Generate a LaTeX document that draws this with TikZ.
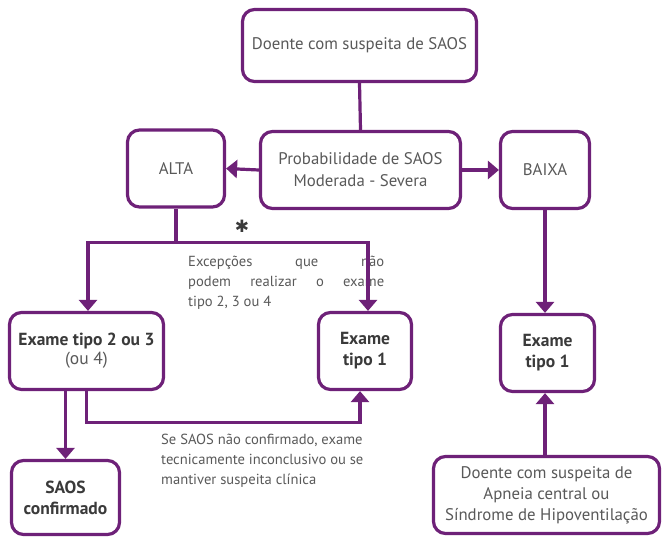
\documentclass[tikz,border=0pt]{standalone}
\usepackage{fontspec}
\setmainfont{PT Sans}
\newfontfamily\symfont{DejaVu Sans}
\usetikzlibrary{arrows.meta}
\definecolor{pur}{HTML}{6E2178}
\definecolor{txt}{HTML}{595959}
\definecolor{btxt}{HTML}{3A3A3A}
\begin{document}
\begin{tikzpicture}[x=1pt,y=-1pt,
  box/.style={draw=pur,line width=3.2pt,rounded corners=12pt,fill=white,
    text=txt,font=\fontsize{16.8}{22}\selectfont,align=center,inner sep=2pt},
  bbox/.style={box,text=btxt,font=\fontsize{17.5}{21}\selectfont\bfseries},
  conn/.style={draw=pur,line width=3.2pt},
  arr/.style={conn,-{Triangle[width=18pt,length=11pt]}},
  note/.style={text=txt,font=\fontsize{14.6}{20}\selectfont,align=left,inner sep=0pt}]
\useasboundingbox (0,0) rectangle (663,537);
\node[box,minimum width=234pt,minimum height=72pt] (top) at (359.5,45.5) {Doente com suspeita de SAOS};
\node[box,minimum width=200pt,minimum height=77pt] (prob) at (360.5,170) {Probabilidade de SAOS\\Moderada - Severa};
\node[box,minimum width=97pt,minimum height=77pt] (alta) at (176,168.5) {ALTA};
\node[box,minimum width=89pt,minimum height=77pt] (baixa) at (545,170) {BAIXA};
\node[bbox,minimum width=154pt,minimum height=77pt] (ex23) at (86.5,351) {Exame tipo 2 ou 3\\[-2pt]{\mdseries\color{txt}(ou 4)}};
\node[bbox,minimum width=93pt,minimum height=77pt] (ex1a) at (365,351) {Exame\\tipo 1};
\node[bbox,minimum width=94pt,minimum height=77pt] (ex1b) at (547.5,353) {Exame\\tipo 1};
\node[bbox,minimum width=108pt,minimum height=74pt] (saos) at (65.5,497.5) {SAOS\\confirmado};
\node[box,minimum width=226pt,minimum height=77pt,font=\fontsize{16.8}{21}\selectfont] (apn) at (546.5,495) {Doente com suspeita de\\Apneia central ou\\Síndrome de Hipoventilação};
\node[text=btxt,font=\symfont\fontsize{17}{17}\selectfont] (ast) at (242,226) {✱};
\node[note,anchor=north west] (exc) at (188,256) {\makebox[196pt][s]{Excepções que não}\\\makebox[196pt][s]{podem realizar o exame}\\tipo 2, 3 ou 4};
\node[note,anchor=north west] (se) at (161,434) {Se SAOS não confirmado, exame\\tecnicamente inconclusivo ou se\\mantiver suspeita clínica};
\draw[conn] (top.south) -- (prob.north);
\draw[arr] (prob.west) -- (alta.east);
\draw[arr] (prob.east) -- (baixa.west);
\draw[conn] (alta.south) -- ++(0,34) coordinate (j);
\draw[arr] (j) -| ([xshift=1.5pt]ex23.north);
\draw[arr] (j) -| ([xshift=3pt]ex1a.north);
\draw[arr] (saos.north |- ex23.south) -- (saos.north);
\draw[arr] (ex23.south) -- ++(0,31) -| ([xshift=-5pt]ex1a.south);
\draw[arr] (baixa.south) -- (baixa.south |- ex1b.north);
\draw[arr] (apn.north -| baixa.south) -- (baixa.south |- ex1b.south);
\end{tikzpicture}
\end{document}
